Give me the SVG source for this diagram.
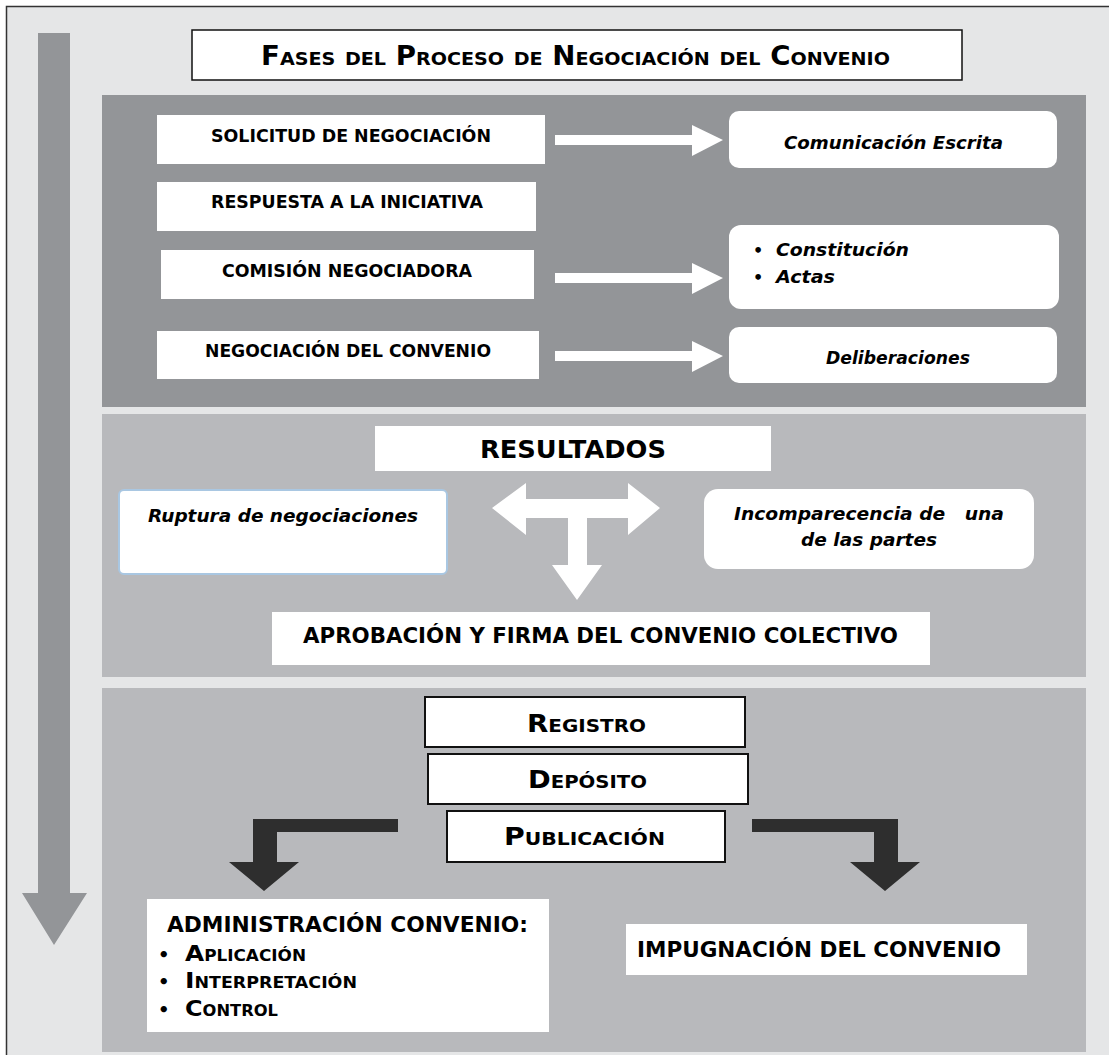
<svg xmlns="http://www.w3.org/2000/svg" width="1109" height="1055" viewBox="0 0 1109 1055">
<style>
  text { font-family: "DejaVu Sans", Verdana, sans-serif; font-weight: bold; fill: #000; }
  .sc { font-variant: small-caps; }
  .it { font-style: italic; }
  .pre { white-space: pre; }
  .wbox { fill: #ffffff; }
  .bbox { fill: #ffffff; stroke: #111; stroke-width: 2; }
  .p1 { fill: #939598; }
  .p2 { fill: #b8b9bc; }
  .warrow { fill: #ffffff; }
  .darrow { fill: #2e2e2e; }
</style>
<rect x="0" y="0" width="1109" height="1055" fill="#ffffff"/>
<rect x="6.5" y="6.5" width="1110" height="1060" fill="#e5e6e7" stroke="#333" stroke-width="1.5"/>

<g id="timeline-arrow">
  <polygon fill="#939598" points="38,33 70,33 70,893 87,893 54,945 22,893 38,893"/>
</g>

<g id="panels">
  <rect class="p1" x="102" y="95" width="984" height="312"/>
  <rect class="p2" x="102" y="414" width="984" height="263"/>
  <rect class="p2" x="102" y="688" width="984" height="364"/>
</g>

<g id="title">
  <rect x="192" y="30" width="770" height="50" fill="#fff" stroke="#111" stroke-width="1.5"/>
  <text class="sc" x="261" y="65" font-size="26" textLength="629" lengthAdjust="spacingAndGlyphs">Fases del Proceso de Negociación del Convenio</text>
</g>

<g id="solicitud">
  <rect class="wbox" x="157" y="115" width="388" height="49"/>
  <text x="211" y="142" font-size="17" textLength="280" lengthAdjust="spacingAndGlyphs">SOLICITUD DE NEGOCIACIÓN</text>
</g>
<g id="comunicacion">
  <rect class="wbox" x="729" y="111" width="328" height="57" rx="10"/>
  <text class="it" x="784" y="149" font-size="18" textLength="219" lengthAdjust="spacingAndGlyphs">Comunicación Escrita</text>
</g>
<g id="respuesta">
  <rect class="wbox" x="157" y="182" width="379" height="49"/>
  <text x="211" y="208" font-size="17" textLength="272" lengthAdjust="spacingAndGlyphs">RESPUESTA A LA INICIATIVA</text>
</g>
<g id="comision">
  <rect class="wbox" x="161" y="250" width="373" height="49"/>
  <text x="222" y="277" font-size="17" textLength="250" lengthAdjust="spacingAndGlyphs">COMISIÓN NEGOCIADORA</text>
</g>
<g id="constitucion">
  <rect class="wbox" x="729" y="225" width="330" height="84" rx="12"/>
  <text x="753" y="256" font-size="16">•</text>
  <text class="it" x="776" y="256" font-size="18" textLength="133" lengthAdjust="spacingAndGlyphs">Constitución</text>
  <text x="753" y="283" font-size="16">•</text>
  <text class="it" x="776" y="283" font-size="18" textLength="59" lengthAdjust="spacingAndGlyphs">Actas</text>
</g>
<g id="negociacion">
  <rect class="wbox" x="157" y="331" width="382" height="48"/>
  <text x="205" y="357" font-size="17" textLength="286" lengthAdjust="spacingAndGlyphs">NEGOCIACIÓN DEL CONVENIO</text>
</g>
<g id="deliberaciones">
  <rect class="wbox" x="729" y="327" width="328" height="56" rx="10"/>
  <text class="it" x="826" y="364" font-size="18" textLength="144" lengthAdjust="spacingAndGlyphs">Deliberaciones</text>
</g>

<g id="resultados">
  <rect class="wbox" x="375" y="426" width="396" height="45"/>
  <text x="480" y="458" font-size="24" textLength="186" lengthAdjust="spacingAndGlyphs">RESULTADOS</text>
</g>
<g id="ruptura">
  <rect x="119" y="490" width="328" height="84" rx="5" fill="#fff" stroke="#a9c7e2" stroke-width="2"/>
  <text class="it" x="148" y="522" font-size="18" textLength="270" lengthAdjust="spacingAndGlyphs">Ruptura de negociaciones</text>
</g>
<g id="incomparecencia">
  <rect class="wbox" x="704" y="489" width="330" height="80" rx="14"/>
  <text class="it pre" x="734" y="520" font-size="18" textLength="270" lengthAdjust="spacingAndGlyphs">Incomparecencia de   una</text>
  <text class="it" x="801" y="546" font-size="18" textLength="136" lengthAdjust="spacingAndGlyphs">de las partes</text>
</g>
<g id="aprobacion">
  <rect class="wbox" x="272" y="612" width="658" height="53"/>
  <text x="303" y="643" font-size="22" textLength="595" lengthAdjust="spacingAndGlyphs">APROBACIÓN Y FIRMA DEL CONVENIO COLECTIVO</text>
</g>

<g id="registro">
  <rect class="bbox" x="425" y="697" width="320" height="50"/>
  <text class="sc" x="527" y="732" font-size="25" textLength="119" lengthAdjust="spacingAndGlyphs">Registro</text>
</g>
<g id="deposito">
  <rect class="bbox" x="428" y="754" width="320" height="50"/>
  <text class="sc" x="528" y="788" font-size="25" textLength="119" lengthAdjust="spacingAndGlyphs">Depósito</text>
</g>
<g id="publicacion">
  <rect class="bbox" x="447" y="811" width="278" height="51"/>
  <text class="sc" x="504" y="845" font-size="25" textLength="161" lengthAdjust="spacingAndGlyphs">Publicación</text>
</g>
<g id="administracion">
  <rect class="wbox" x="147" y="899" width="402" height="133"/>
  <text x="167" y="932" font-size="22" textLength="361" lengthAdjust="spacingAndGlyphs">ADMINISTRACIÓN CONVENIO:</text>
  <text x="158" y="961" font-size="18">•</text>
  <text class="sc" x="185" y="961" font-size="22" textLength="121" lengthAdjust="spacingAndGlyphs">Aplicación</text>
  <text x="158" y="988" font-size="18">•</text>
  <text class="sc" x="185" y="988" font-size="22" textLength="172" lengthAdjust="spacingAndGlyphs">Interpretación</text>
  <text x="158" y="1016" font-size="18">•</text>
  <text class="sc" x="185" y="1016" font-size="22" textLength="93" lengthAdjust="spacingAndGlyphs">Control</text>
</g>
<g id="impugnacion">
  <rect class="wbox" x="626" y="924" width="401" height="51"/>
  <text x="637" y="957" font-size="22" textLength="364" lengthAdjust="spacingAndGlyphs">IMPUGNACIÓN DEL CONVENIO</text>
</g>

<g id="connectors">
  <polygon class="warrow" points="555,135 692,135 692,125 723,140 692,156 692,145 555,145"/>
  <polygon class="warrow" points="555,273 692,273 692,263 723,278 692,294 692,283 555,283"/>
  <polygon class="warrow" points="555,351 692,351 692,341 723,356 692,372 692,361 555,361"/>
  <polygon class="warrow" points="492,508 526,483 526,499 628,499 628,483 660,508 628,535 628,518 587,518 587,565 602,565 577,600 552,565 568,565 568,518 526,518 526,535"/>
  <polygon class="darrow" points="398,819 253,819 253,862 229,862 264,891 299,862 277,862 277,832 398,832"/>
  <polygon class="darrow" points="752,819 898,819 898,862 920,862 885,891 850,862 874,862 874,832 752,832"/>
</g>
</svg>
